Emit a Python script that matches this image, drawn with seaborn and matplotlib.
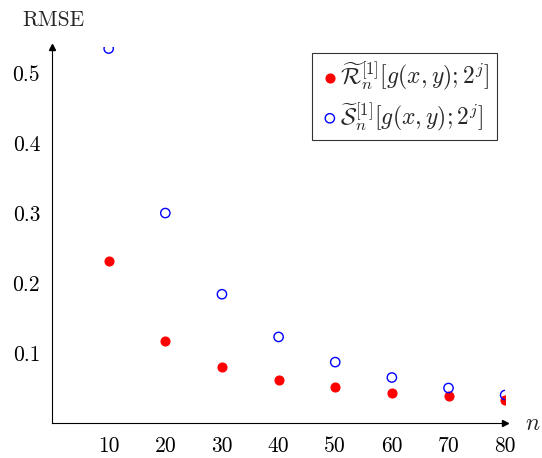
import matplotlib
matplotlib.use("Agg")
import matplotlib.pyplot as plt
import seaborn as sns
import pandas as pd

n_values = [10, 20, 30, 40, 50, 60, 70, 80]
rmse_R = [0.232, 0.117, 0.080, 0.062, 0.051, 0.043, 0.038, 0.033]
rmse_S = [0.535, 0.300, 0.184, 0.123, 0.087, 0.065, 0.050, 0.040]
x_ticks = [10, 20, 30, 40, 50, 60, 70, 80]
y_ticks = [0.1, 0.2, 0.3, 0.4, 0.5]
label_R = r"$\widetilde{\mathcal{R}}_n^{[1]}[g(x,y);2^j]$"
label_S = r"$\widetilde{\mathcal{S}}_n^{[1]}[g(x,y);2^j]$"

sns.set_style("white")
plt.rcParams["font.family"] = ["serif"]
plt.rcParams["font.serif"] = ["cmr10", "DejaVu Serif"]
plt.rcParams["mathtext.fontset"] = "cm"
plt.rcParams["axes.unicode_minus"] = False

df_R = pd.DataFrame({"n": n_values, "rmse": rmse_R})
df_S = pd.DataFrame({"n": n_values, "rmse": rmse_S})

fig = plt.figure(figsize=(5.42, 4.58), dpi=100)
ax = fig.add_axes([0.096, 0.0764, 0.836, 0.8206])

sns.scatterplot(data=df_R, x="n", y="rmse", ax=ax, color="red", s=42,
                edgecolor="red", linewidth=0.8, label=label_R, zorder=3)
sns.scatterplot(data=df_S, x="n", y="rmse", ax=ax, facecolor="none", s=45,
                edgecolor="blue", linewidth=1.0, label=label_S, zorder=3)

ax.set_xlim(0, 80)
ax.set_ylim(0, 0.537)
ax.set_xticks(x_ticks)
ax.set_xticklabels([str(t) for t in x_ticks])
ax.set_yticks(y_ticks)
ax.set_yticklabels([f"{t:.1f}" for t in y_ticks])
ax.tick_params(direction="inout", length=7, width=0.6, labelsize=15.5, colors="black", pad=5)
ax.tick_params(axis="x", pad=6)

for side in ["top", "right"]:
    ax.spines[side].set_visible(False)
for side in ["left", "bottom"]:
    ax.spines[side].set_color("black")
    ax.spines[side].set_linewidth(0.8)

# arrow heads
ax.plot(1, 0, ">", color="black", markersize=5, transform=ax.transAxes, clip_on=False)
ax.plot(0, 1, "^", color="black", markersize=5, transform=ax.transAxes, clip_on=False)

ax.set_xlabel("")
ax.set_ylabel("")
fig.text(53 / 542, 1 - 20 / 458, "RMSE", fontsize=15.5, ha="center", va="center")
fig.text(533 / 542, 1 - 424 / 458, r"$n$", fontsize=17, ha="center", va="center")

leg = ax.legend(loc="upper right", bbox_to_anchor=(0.982, 0.985), frameon=True, fancybox=False,
                edgecolor="black", fontsize=17, handletextpad=0.0, borderpad=0.3,
                labelspacing=0.35, handlelength=0.9, borderaxespad=0, markerscale=1.0)
leg.get_frame().set_linewidth(0.8)

fig.savefig("out.png", dpi=100)
